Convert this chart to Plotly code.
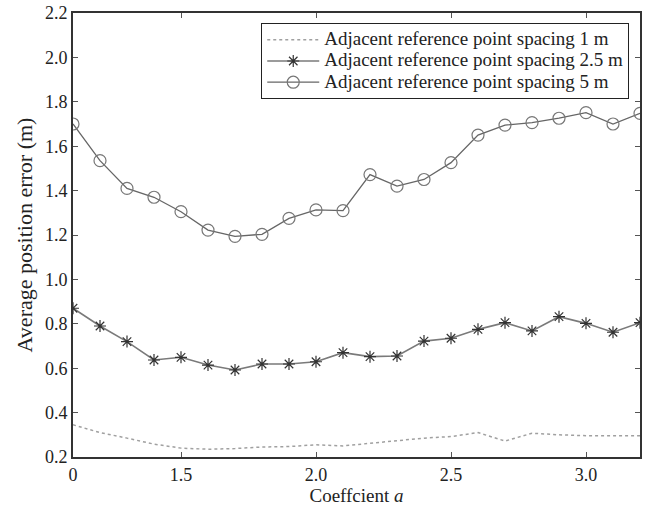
import plotly.graph_objects as go

coef = [1.1, 1.2, 1.3, 1.4, 1.5, 1.6, 1.7, 1.8, 1.9, 2.0, 2.1,
        2.2, 2.3, 2.4, 2.5, 2.6, 2.7, 2.8, 2.9, 3.0, 3.1, 3.2]
err_1m = [0.345, 0.31, 0.285, 0.258, 0.24, 0.235, 0.238, 0.245, 0.247, 0.255, 0.25,
          0.262, 0.275, 0.285, 0.292, 0.31, 0.272, 0.307, 0.30, 0.296, 0.296, 0.296]
err_2_5m = [0.87, 0.79, 0.72, 0.637, 0.649, 0.614, 0.592, 0.619, 0.619, 0.629, 0.67,
            0.652, 0.655, 0.722, 0.735, 0.775, 0.805, 0.768, 0.832, 0.802, 0.762, 0.805]
err_5m = [1.70, 1.535, 1.41, 1.37, 1.305, 1.222, 1.194, 1.203, 1.275, 1.313, 1.31,
          1.472, 1.42, 1.45, 1.526, 1.65, 1.695, 1.706, 1.726, 1.751, 1.70, 1.748]

x_tickvals = [1.1, 1.5, 2.0, 2.5, 3.0]
x_ticktext = ["0", "1.5", "2.0", "2.5", "3.0"]
y_tickvals = [0.2, 0.4, 0.6, 0.8, 1.0, 1.2, 1.4, 1.6, 1.8, 2.0, 2.2]

names = ["Adjacent reference point spacing 1 m",
         "Adjacent reference point spacing 2.5 m",
         "Adjacent reference point spacing 5 m"]

FONT = "Liberation Serif, Times New Roman, serif"


def legend_label(s):
    return '<span style="font-size:19px">' + s + '</span>'


fig = go.Figure()
fig.add_trace(go.Scatter(
    x=coef, y=err_1m, name=legend_label(names[0]), mode="lines",
    line=dict(color="#a0a0a0", width=1.5, dash="dot")))
fig.add_trace(go.Scatter(
    x=coef, y=err_2_5m, name=legend_label(names[1]), mode="lines+markers",
    line=dict(color="#7a7a7a", width=1.6),
    marker=dict(symbol="asterisk-open", size=10, color="#333333",
                line=dict(color="#333333", width=1.2))))
fig.add_trace(go.Scatter(
    x=coef, y=err_5m, name=legend_label(names[2]), mode="lines+markers",
    line=dict(color="#666666", width=1.3),
    marker=dict(symbol="circle-open", size=12, color="#777777",
                line=dict(color="#777777", width=1.2))))

axis_common = dict(
    showline=True, linecolor="#333333", linewidth=2, mirror="ticks",
    ticks="inside", ticklen=5, tickcolor="#555555", tickwidth=1,
    showgrid=False, zeroline=False, automargin=False,
    tickfont=dict(family=FONT, size=18, color="#222222"),
)

fig.update_layout(
    width=651, height=512,
    margin=dict(l=73, r=11, t=13, b=55, autoexpand=False),
    paper_bgcolor="white", plot_bgcolor="white",
    font=dict(family=FONT, size=18, color="#222222"),
    xaxis=dict(range=[1.1, 3.2], tickvals=x_tickvals, ticktext=x_ticktext,
               title=dict(text="Coeffcient <i>a</i>", font=dict(family=FONT, size=19), standoff=4),
               **axis_common),
    yaxis=dict(range=[0.2, 2.2], tickvals=y_tickvals, tickformat=".1f",
               title=dict(text="Average position error (m)", font=dict(family=FONT, size=22), standoff=6),
               **axis_common),
    legend=dict(x=0.332, y=0.977, xanchor="left", yanchor="top",
                bgcolor="white", bordercolor="#222222", borderwidth=1,
                font=dict(family=FONT, size=14, color="#222222"),
                tracegroupgap=0, itemwidth=52),
    showlegend=True,
)

fig.write_html("out.html")
